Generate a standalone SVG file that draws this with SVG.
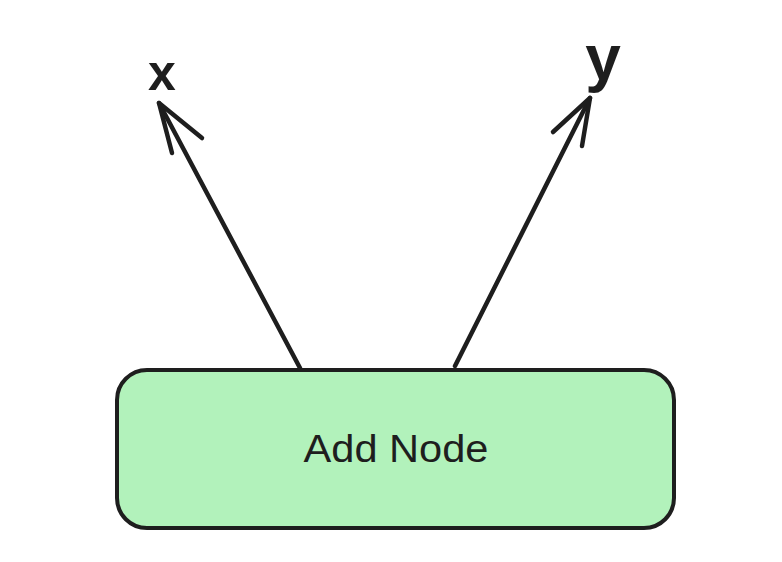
<svg xmlns="http://www.w3.org/2000/svg" width="782" height="562" viewBox="0 0 782 562">
<style>
.stroke{fill:none;stroke:#1e1e1e;stroke-width:4.5;stroke-linecap:round;stroke-linejoin:round}
.lbl{font-family:"Liberation Sans",Arial,sans-serif;fill:#1e1e1e}
</style>
<rect width="782" height="562" fill="#ffffff"/>
<g id="connectors">
<g id="arrow-x">
<path class="stroke" d="M300 368 L159 103"/>
<path class="stroke" d="M172 153 L159 103 L202 138"/>
</g>
<g id="arrow-y">
<path class="stroke" d="M455 366 L590 98"/>
<path class="stroke" d="M553 132 L590 98 L582 146"/>
</g>
</g>
<g id="node-add">
<rect x="117" y="370" width="557" height="158" rx="30" ry="30" fill="#b2f2bb" stroke="#1e1e1e" stroke-width="4"/>
<text class="lbl" x="396" y="462" font-size="38" text-anchor="middle" textLength="185" lengthAdjust="spacingAndGlyphs">Add Node</text>
</g>
<g id="label-x">
<text class="lbl" x="162" y="90" font-size="50" font-weight="bold" text-anchor="middle">x</text>
</g>
<g id="label-y">
<text class="lbl" x="603" y="80" font-size="64" font-weight="bold" text-anchor="middle">y</text>
</g>
</svg>
